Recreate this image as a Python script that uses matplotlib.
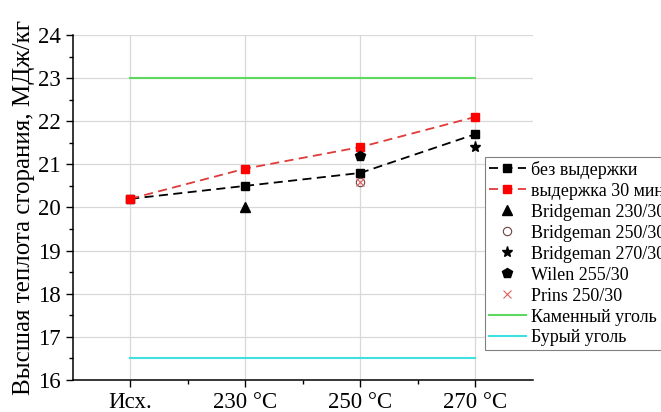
import matplotlib
matplotlib.use("Agg")
import matplotlib.pyplot as plt
from matplotlib.ticker import MultipleLocator, FixedLocator

plt.rcParams['font.family'] = ['Liberation Serif', 'DejaVu Serif']

categories = ["Исх.", "230 °C", "250 °C", "270 °C"]
no_hold = [20.2, 20.5, 20.8, 21.7]
hold_30 = [20.2, 20.9, 21.4, 22.1]
bridgeman_230 = (1, 20.0)
bridgeman_250 = (2, 20.6)
bridgeman_270 = (3, 21.4)
wilen_255 = (2, 21.2)
prins_250 = (2, 20.6)
hard_coal = 23.0
brown_coal = 16.5

fig = plt.figure(figsize=(6.61, 4.12), dpi=100)
ax = fig.add_axes([0.110, 0.078, 0.696, 0.837])

x = list(range(len(categories)))
ax.plot(x, no_hold, ls=(0, (5, 3)), color='black', lw=1.3, marker='s', ms=6,
        mfc='black', mec='black', label='без выдержки', zorder=5)
ax.plot(x, hold_30, ls=(0, (5, 3)), color='#e03a3a', lw=1.3, marker='s', ms=6,
        mfc='#ff0000', mec='#ff0000', label='выдержка 30 мин', zorder=5)
ax.plot([bridgeman_230[0]], [bridgeman_230[1]], ls='none', marker='^', ms=7,
        color='black', label='Bridgeman 230/30', zorder=6)
ax.plot([bridgeman_250[0]], [bridgeman_250[1]], ls='none', marker='o', ms=6,
        mfc='none', mec='#704040', mew=0.8, label='Bridgeman 250/30', zorder=6)
ax.plot([bridgeman_270[0]], [bridgeman_270[1]], ls='none', marker='*', ms=8,
        color='black', label='Bridgeman 270/30', zorder=6)
ax.plot([wilen_255[0]], [wilen_255[1]], ls='none', marker='p', ms=7,
        color='black', label='Wilen 255/30', zorder=6)
ax.plot([prins_250[0]], [prins_250[1]], ls='none', marker='x', ms=6,
        color='#e06060', mew=0.8, label='Prins 250/30', zorder=6)
ax.plot([x[0], x[-1]], [hard_coal, hard_coal], color='#5fd85f', lw=1.5,
        label='Каменный уголь', zorder=4)
ax.plot([x[0], x[-1]], [brown_coal, brown_coal], color='#40e0e0', lw=1.5,
        label='Бурый уголь', zorder=4)

ax.set_xlim(-0.5, 3.5)
ax.set_ylim(16, 24)
ax.set_xticks(x)
ax.set_xticklabels(categories)
ax.xaxis.set_minor_locator(FixedLocator([0.5, 1.5, 2.5]))
ax.yaxis.set_major_locator(MultipleLocator(1))
ax.yaxis.set_minor_locator(MultipleLocator(0.5))
ax.tick_params(axis='both', which='major', labelsize=16.5, length=5, width=1, direction='out')
ax.tick_params(axis='both', which='minor', length=3, width=1, direction='out')
ax.grid(True, which='major', color='#d8d8d8', lw=0.9)
ax.set_axisbelow(True)
for s in ['top', 'right']:
    ax.spines[s].set_visible(False)
ax.spines['left'].set_linewidth(1.1)
ax.spines['bottom'].set_linewidth(1.1)
ax.set_ylabel('Высшая теплота сгорания, МДж/кг', fontsize=18, labelpad=2)

leg = ax.legend(loc='upper left', bbox_to_anchor=(0.896, 0.646), fontsize=13,
                frameon=True, fancybox=False, edgecolor='#808080', framealpha=1,
                borderpad=0.2, labelspacing=0.22, handlelength=2.1,
                handletextpad=0.25, borderaxespad=0)
leg.get_frame().set_linewidth(0.8)

fig.savefig('out.png', dpi=100)
